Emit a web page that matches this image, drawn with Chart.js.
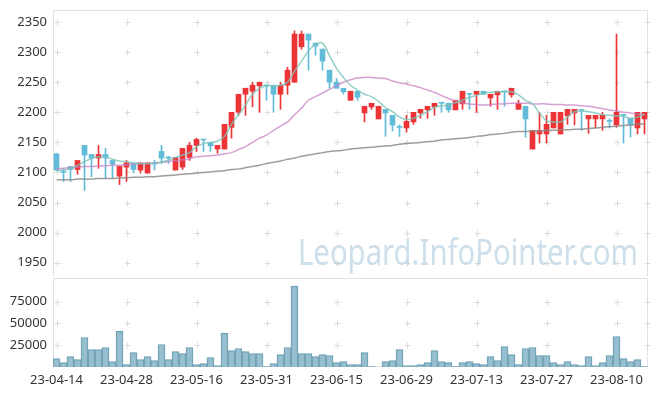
<!DOCTYPE html>
<html>
<head>
<meta charset="utf-8">
<script src="https://cdn.jsdelivr.net/npm/chart.js@4.4.0/dist/chart.umd.min.js"></script>
<style>
  html, body { margin: 0; padding: 0; background: #fff; }
  #wrap { position: relative; width: 657px; height: 396px; }
  #priceBox { position: absolute; left: 0; top: 0; }
  #volBox { position: absolute; left: 0; top: 278px; }
</style>
</head>
<body>
<div id="wrap">
  <div id="priceBox"><canvas id="priceChart" width="657" height="278"></canvas></div>
  <div id="volBox"><canvas id="volChart" width="657" height="118"></canvas></div>
</div>
<script>
const dates = [
  "23-04-14", "23-04-17", "23-04-18", "23-04-19", "23-04-20", "23-04-21", "23-04-24", "23-04-25", "23-04-26", "23-04-27",
  "23-04-28", "23-05-02", "23-05-03", "23-05-04", "23-05-08", "23-05-09", "23-05-10", "23-05-11", "23-05-12", "23-05-15",
  "23-05-16", "23-05-17", "23-05-18", "23-05-19", "23-05-22", "23-05-23", "23-05-24", "23-05-25", "23-05-26", "23-05-30",
  "23-05-31", "23-06-01", "23-06-02", "23-06-05", "23-06-07", "23-06-08", "23-06-09", "23-06-12", "23-06-13", "23-06-14",
  "23-06-15", "23-06-16", "23-06-19", "23-06-20", "23-06-21", "23-06-22", "23-06-23", "23-06-26", "23-06-27", "23-06-28",
  "23-06-29", "23-06-30", "23-07-03", "23-07-04", "23-07-05", "23-07-06", "23-07-07", "23-07-10", "23-07-11", "23-07-12",
  "23-07-13", "23-07-14", "23-07-17", "23-07-18", "23-07-19", "23-07-20", "23-07-21", "23-07-24", "23-07-25", "23-07-26",
  "23-07-27", "23-07-28", "23-07-31", "23-08-01", "23-08-02", "23-08-03", "23-08-04", "23-08-07", "23-08-08", "23-08-09",
  "23-08-10", "23-08-11", "23-08-14", "23-08-16", "23-08-17"
];

const opens = [
  2131, 2101, 2110, 2105, 2145, 2130, 2124, 2130, 2120, 2094,
  2109, 2115, 2104, 2099, 2115, 2135, 2125, 2104, 2109, 2125,
  2145, 2155, 2150, 2139, 2139, 2175, 2200, 2230, 2235, 2244,
  2245, 2245, 2230, 2245, 2250, 2309, 2330, 2315, 2305, 2270,
  2250, 2240, 2220, 2235, 2199, 2209, 2189, 2205, 2195, 2176,
  2174, 2184, 2199, 2204, 2209, 2216, 2215, 2204, 2214, 2231,
  2230, 2235, 2224, 2229, 2235, 2229, 2205, 2210, 2139, 2164,
  2164, 2174, 2164, 2194, 2199, 2204, 2189, 2189, 2189, 2186,
  2179, 2196, 2190, 2174, 2189
];
const highs = [
  2132, 2106, 2110, 2120, 2145, 2130, 2145, 2140, 2120, 2110,
  2120, 2115, 2116, 2116, 2120, 2145, 2127, 2125, 2140, 2150,
  2157, 2155, 2150, 2145, 2180, 2200, 2230, 2240, 2250, 2250,
  2245, 2245, 2250, 2275, 2335, 2335, 2330, 2315, 2305, 2270,
  2256, 2240, 2235, 2235, 2210, 2215, 2210, 2205, 2195, 2179,
  2195, 2200, 2205, 2210, 2215, 2216, 2215, 2220, 2235, 2231,
  2235, 2235, 2230, 2235, 2235, 2240, 2220, 2210, 2170, 2200,
  2195, 2200, 2200, 2205, 2205, 2204, 2195, 2195, 2200, 2189,
  2330, 2196, 2190, 2200, 2200
];
const lows = [
  2103, 2085, 2085, 2097, 2070, 2093, 2107, 2090, 2090, 2080,
  2085, 2099, 2099, 2099, 2104, 2115, 2115, 2104, 2105, 2120,
  2135, 2135, 2135, 2132, 2139, 2157, 2195, 2195, 2209, 2200,
  2220, 2200, 2205, 2230, 2250, 2305, 2270, 2295, 2270, 2240,
  2240, 2230, 2220, 2220, 2184, 2205, 2189, 2160, 2169, 2160,
  2167, 2180, 2190, 2190, 2195, 2200, 2200, 2204, 2205, 2205,
  2200, 2230, 2210, 2205, 2210, 2225, 2205, 2159, 2139, 2149,
  2149, 2174, 2164, 2180, 2179, 2170, 2165, 2174, 2170, 2174,
  2175, 2149, 2159, 2164, 2164
];
const closes = [
  2104, 2100, 2105, 2120, 2129, 2124, 2130, 2124, 2114, 2110,
  2116, 2105, 2116, 2116, 2114, 2124, 2124, 2125, 2140, 2145,
  2155, 2154, 2144, 2145, 2180, 2200, 2230, 2240, 2245, 2250,
  2244, 2230, 2245, 2270, 2330, 2330, 2320, 2310, 2285, 2250,
  2240, 2234, 2235, 2225, 2210, 2215, 2210, 2199, 2179, 2175,
  2185, 2200, 2205, 2210, 2215, 2215, 2204, 2220, 2235, 2230,
  2235, 2230, 2230, 2235, 2234, 2240, 2215, 2189, 2170, 2170,
  2180, 2200, 2200, 2205, 2205, 2203, 2195, 2195, 2195, 2185,
  2200, 2195, 2179, 2200, 2200
];
const volumes = [
  9600, 5000, 11900, 8500, 33800, 20000, 20000, 22300, 6200, 40800,
  2700, 16500, 8500, 11900, 7300, 25800, 8500, 17700, 15400, 22300,
  2700, 3800, 10800, 1500, 38500, 18800, 21200, 17700, 15400, 15400,
  400, 3800, 14200, 22300, 92700, 15400, 15400, 11900, 14200, 13100,
  5000, 6200, 2700, 2700, 16500, 400, 0, 6200, 7300, 20000,
  1500, 1500, 2700, 5000, 18800, 6200, 5000, 400, 5000, 6200,
  3800, 2700, 11900, 7300, 23500, 14200, 2700, 21200, 22300, 13100,
  13100, 5000, 2700, 6200, 2700, 1500, 11900, 1500, 5000, 13100,
  35000, 9600, 6200, 8500, 400
];
const ma5 = [
  2103, 2104, 2106, 2112, 2118, 2123, 2126, 2126, 2122, 2119,
  2118, 2116, 2115, 2115, 2115, 2117, 2121, 2125, 2129, 2133,
  2143, 2148, 2150, 2152, 2160, 2180, 2196, 2212, 2230, 2240,
  2244, 2244, 2245, 2250, 2268, 2285, 2302, 2313, 2315, 2294,
  2273, 2258, 2245, 2237, 2230, 2226, 2218, 2208, 2201, 2192,
  2188, 2190, 2195, 2201, 2208, 2211, 2212, 2216, 2220, 2225,
  2228, 2232, 2233, 2234, 2234, 2234, 2229, 2220, 2214, 2199,
  2186, 2184, 2184, 2192, 2201, 2202, 2201, 2199, 2196, 2195,
  2194, 2193, 2190, 2192, 2197
];
const ma20 = [
  2106, 2107, 2108, 2109, 2110, 2110, 2111, 2111, 2112, 2112,
  2113, 2114, 2115, 2115, 2116, 2117, 2118, 2120, 2121, 2123,
  2126, 2127, 2128, 2129, 2131, 2133, 2138, 2143, 2150, 2157,
  2162, 2170, 2177, 2184, 2196, 2207, 2220, 2226, 2232, 2238,
  2244, 2250, 2254, 2257, 2258, 2258, 2257, 2256, 2252, 2249,
  2247, 2244, 2241, 2237, 2233, 2228, 2223, 2219, 2216, 2214,
  2213, 2212, 2213, 2214, 2214, 2215, 2215, 2215, 2214, 2214,
  2214, 2213, 2213, 2212, 2212, 2211, 2210, 2208, 2206, 2204,
  2202, 2200, 2199, 2197, 2196
];
const ma60 = [
  2088, 2088, 2088, 2089, 2089, 2089, 2090, 2090, 2090, 2091,
  2091, 2092, 2092, 2093, 2093, 2094, 2095, 2096, 2097, 2098,
  2099, 2100, 2101, 2102, 2103, 2105, 2106, 2108, 2110, 2112,
  2115, 2117, 2119, 2122, 2124, 2127, 2129, 2131, 2133, 2135,
  2136, 2137, 2139, 2140, 2141, 2142, 2143, 2144, 2145, 2147,
  2148, 2149, 2150, 2151, 2152, 2154, 2155, 2156, 2157, 2158,
  2160, 2161, 2163, 2164, 2165, 2167, 2168, 2168, 2169, 2169,
  2170, 2170, 2171, 2171, 2172, 2172, 2173, 2174, 2175, 2176,
  2177, 2178, 2179, 2180, 2181
];
const priceTicks = [1950, 2000, 2050, 2100, 2150, 2200, 2250, 2300, 2350];
const volumeTicks = [25000, 50000, 75000];

const UP = "#ec3437";
const DOWN = "#62bcd9";
const TICK_FONT = { family: "'Noto Sans', sans-serif", size: 13 };
const candleColors = closes.map((c, i) => (c >= opens[i] ? UP : DOWN));

// small "+" marks where the grid would cross, plus the panel frame
const gridMarks = {
  id: "gridMarks",
  beforeDatasetsDraw(chart, args, opts) {
    const { ctx, chartArea: a, scales } = chart;
    ctx.save();
    ctx.strokeStyle = "#e2e2e2";
    ctx.lineWidth = 1;
    ctx.beginPath();
    ctx.moveTo(a.left + 0.5, opts.openBottom ? a.bottom : a.bottom - 0.5);
    ctx.lineTo(a.left + 0.5, a.top + 0.5);
    ctx.lineTo(a.right - 0.5, a.top + 0.5);
    ctx.lineTo(a.right - 0.5, opts.openBottom ? a.bottom : a.bottom - 0.5);
    if (!opts.openBottom) ctx.lineTo(a.left + 0.5, a.bottom - 0.5);
    ctx.stroke();
    ctx.strokeStyle = "#dcdcdc";
    const xs = [];
    dates.forEach((d, i) => { if (i % 10 === 0) xs.push(Math.round(scales.x.getPixelForValue(i)) + 0.5); });
    xs.push(a.right - 0.5);
    opts.ticks.forEach((v) => {
      const y = Math.round(scales.y.getPixelForValue(v)) + 0.5;
      xs.forEach((x) => {
        ctx.beginPath();
        ctx.moveTo(x - 3, y); ctx.lineTo(x + 3, y);
        ctx.moveTo(x, y - 3); ctx.lineTo(x, y + 3);
        ctx.stroke();
      });
    });
    if (opts.watermark) {
      ctx.font = "36px 'Noto Sans', sans-serif";
      ctx.fillStyle = "rgba(172, 201, 222, 0.6)";
      ctx.textBaseline = "alphabetic";
      const text = "Leopard.InfoPointer.com";
      const w = ctx.measureText(text).width;
      ctx.translate(298, 265);
      ctx.scale(340 / w, 1);
      ctx.fillText(text, 0, 0);
    }
    ctx.restore();
  },
};

function fixWidth(scale) {
  scale.width = 53;
  scale.paddingTop = 0;
  scale.paddingBottom = 0;
}

const plainNumber = (value) => String(value);

const priceChart = new Chart(document.getElementById("priceChart"), {
  type: "bar",
  data: {
    labels: dates,
    datasets: [
      {
        type: "line", label: "MA5", data: ma5, borderColor: "rgba(120, 196, 184, 0.8)",
        borderWidth: 1.5, pointRadius: 0, tension: 0.4, order: 0,
      },
      {
        type: "line", label: "MA20", data: ma20, borderColor: "rgba(200, 128, 196, 0.75)",
        borderWidth: 1.5, pointRadius: 0, tension: 0.4, order: 0,
      },
      {
        type: "line", label: "MA60", data: ma60, borderColor: "rgba(140, 140, 140, 0.85)",
        borderWidth: 1.5, pointRadius: 0, tension: 0.4, order: 0,
      },
      {
        label: "wick", data: lows.map((l, i) => [l, highs[i]]), backgroundColor: candleColors,
        barThickness: 1, grouped: false, order: 2,
      },
      {
        label: "body", data: opens.map((o, i) => [o, closes[i]]), backgroundColor: candleColors,
        barThickness: 5, minBarLength: 1, grouped: false, order: 1,
      },
    ],
  },
  options: {
    responsive: false,
    animation: false,
    layout: { padding: { top: 10, bottom: 2, left: 0, right: 9 } },
    plugins: {
      legend: { display: false },
      tooltip: { enabled: false },
      gridMarks: { ticks: priceTicks, watermark: true, openBottom: true },
    },
    scales: {
      x: { type: "category", offset: true, display: false, grid: { display: false } },
      y: {
        min: 1928, max: 2370,
        afterBuildTicks: (scale) => { scale.ticks = priceTicks.map((v) => ({ value: v })); },
        afterFit: fixWidth,
        grid: { display: false, drawTicks: false },
        border: { display: false },
        ticks: { color: "#333", font: TICK_FONT, padding: 6, callback: plainNumber },
      },
    },
  },
  plugins: [gridMarks],
});

const volChart = new Chart(document.getElementById("volChart"), {
  type: "bar",
  data: {
    labels: dates,
    datasets: [{
      label: "volume", data: volumes, backgroundColor: "rgba(140, 184, 202, 0.9)",
      borderColor: "#6d9db3", borderWidth: 1, barPercentage: 1, categoryPercentage: 1,
    }],
  },
  options: {
    responsive: false,
    animation: false,
    layout: { padding: { top: 0, bottom: 0, left: 0, right: 9 } },
    plugins: {
      legend: { display: false },
      tooltip: { enabled: false },
      gridMarks: { ticks: volumeTicks, watermark: false, openBottom: false },
    },
    scales: {
      x: {
        type: "category", offset: true,
        grid: { display: false, drawTicks: false },
        border: { display: false },
        afterFit: (scale) => { scale.height = 29; scale.paddingLeft = 0; scale.paddingRight = 0; },
        ticks: {
          color: "#333", font: TICK_FONT, padding: 5, autoSkip: false, maxRotation: 0,
          callback: (v, i) => (i % 10 === 0 ? dates[i] : null),
        },
      },
      y: {
        min: 0, max: 102000,
        afterBuildTicks: (scale) => { scale.ticks = volumeTicks.map((v) => ({ value: v })); },
        afterFit: fixWidth,
        grid: { display: false, drawTicks: false },
        border: { display: false },
        ticks: { color: "#333", font: TICK_FONT, padding: 6, callback: plainNumber },
      },
    },
  },
  plugins: [gridMarks],
});
</script>
</body>
</html>
